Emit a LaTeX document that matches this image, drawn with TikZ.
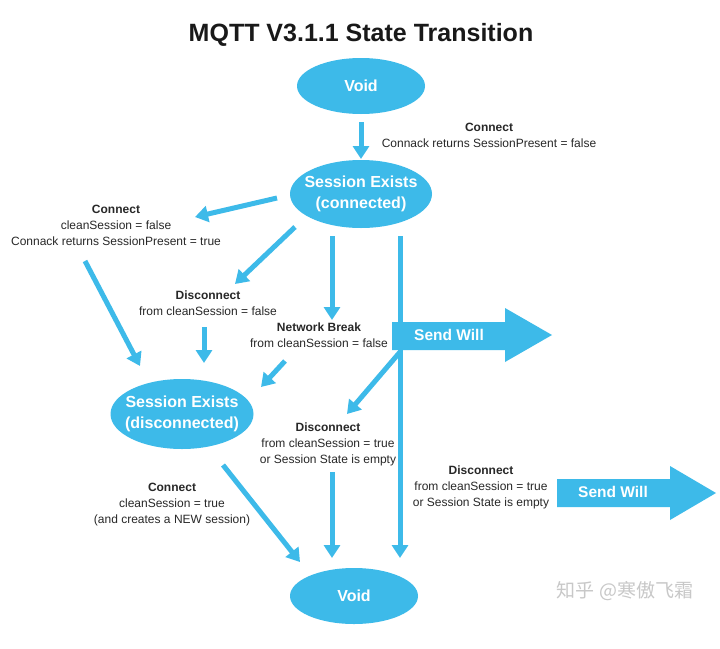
\documentclass[tikz,border=0pt]{standalone}
\usepackage{fontspec}
\setmainfont{Liberation Sans}
\newfontfamily\cjkwm{Noto Sans CJK SC}
\usetikzlibrary{arrows.meta,shapes.geometric}
\definecolor{mqblue}{RGB}{61,186,233}
\definecolor{txtgray}{RGB}{40,40,40}
\definecolor{titlecol}{RGB}{25,25,25}
\definecolor{wmgray}{RGB}{200,200,200}
\begin{document}
\begin{tikzpicture}[x=1pt,y=-1pt,
  state/.style={ellipse, fill=mqblue, text=white, font=\fontsize{16}{21}\selectfont\bfseries, align=center, inner xsep=-30pt, inner ysep=-20pt},
  lbl/.style={text=txtgray, font=\fontsize{12}{16}\selectfont, align=center, inner sep=0pt},
  flow/.style={draw=mqblue, line width=5pt, -{Triangle[width=16pt,length=13pt,fill=mqblue]}},
  willbody/.style={fill=mqblue},
  willtext/.style={text=white, font=\fontsize{15.5}{18}\selectfont\bfseries, inner sep=0pt}]
\useasboundingbox (0,0) rectangle (720,648);
\fill[white] (0,0) rectangle (720,648);

\node[font=\fontsize{25}{30}\selectfont\bfseries, text=titlecol] (title) at (361,35) {MQTT V3.1.1 State Transition};

% states
\node[state, minimum width=128pt, minimum height=56pt] (void1) at (361,86) {Void};
\node[state, minimum width=142pt, minimum height=68pt] (conn) at (361,194) {Session Exists\\(connected)};
\node[state, minimum width=143pt, minimum height=70pt] (disc) at (182,414) {Session Exists\\(disconnected)};
\node[state, minimum width=128pt, minimum height=56pt] (void2) at (354,596) {Void};

% labels
\node[lbl] (l1) at (489,135) {{\bfseries Connect}\\Connack returns SessionPresent = false};
\node[lbl] (l2) at (116,225) {{\bfseries Connect}\\cleanSession = false\\Connack returns SessionPresent = true};
\node[lbl] (l3) at (208,303) {{\bfseries Disconnect}\\from cleanSession = false};
\node[lbl] (l4) at (319,335) {{\bfseries Network Break}\\from cleanSession = false};
\node[lbl] (l5) at (328,444) {{\bfseries Disconnect}\\from cleanSession = true\\or Session State is empty};
\node[lbl] (l6) at (172,505) {{\bfseries Connect}\\cleanSession = true\\(and creates a NEW session)};
\node[lbl] (l7) at (481,487) {{\bfseries Disconnect}\\from cleanSession = true\\or Session State is empty};

% connector coordinates
\coordinate (a1s) at (361,122); \coordinate (a1e) at (361,159);
\coordinate (a2s) at (277,198); \coordinate (a2e) at (195,217);
\coordinate (a3s) at (295,227); \coordinate (a3e) at (235,284);
\coordinate (a4s) at (332,236); \coordinate (a4e) at (332,320);
\coordinate (a5s) at (400,236); \coordinate (a5e) at (400,558);
\coordinate (a6s) at (85,261);  \coordinate (a6e) at (140,366);
\coordinate (a7s) at (204,327); \coordinate (a7e) at (204,363);
\coordinate (a8s) at (285,361); \coordinate (a8e) at (261,387);
\coordinate (a9s) at (400,352); \coordinate (a9e) at (347,414);
\coordinate (a10s) at (332,472); \coordinate (a10e) at (332,558);
\coordinate (a11s) at (223,465); \coordinate (a11e) at (300,562);

% send will arrows
\fill[willbody] (392,322) -- (505,322) -- (505,308) -- (552,335) -- (505,362) -- (505,350) -- (392,350) -- cycle;
\node[willtext] (will1) at (449,335) {Send Will};
\fill[willbody] (557,479) -- (670,479) -- (670,466) -- (716,493) -- (670,520) -- (670,507) -- (557,507) -- cycle;
\node[willtext] (will2) at (613,492) {Send Will};

\draw[flow] (a1s) -- (a1e);
\draw[flow] (a2s) -- (a2e);
\draw[flow] (a3s) -- (a3e);
\draw[flow] (a4s) -- (a4e);
\draw[flow] (a5s) -- (a5e);
\draw[flow] (a6s) -- (a6e);
\draw[flow] (a7s) -- (a7e);
\draw[flow] (a8s) -- (a8e);
\draw[flow] (a9s) -- (a9e);
\draw[flow] (a10s) -- (a10e);
\draw[flow] (a11s) -- (a11e);

% watermark
\node[text=wmgray, font=\cjkwm\fontsize{19}{22}\selectfont, inner sep=0pt] (wm) at (625,591) {知乎 @寒傲飞霜};
\end{tikzpicture}
\end{document}
